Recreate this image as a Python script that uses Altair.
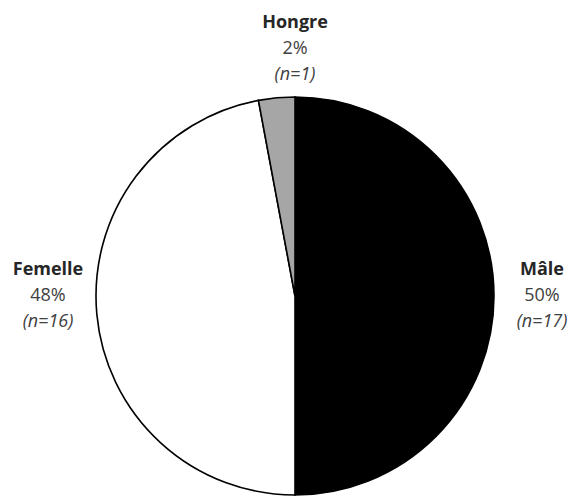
import math
import altair as alt
import pandas as pd

categories = ["Mâle", "Femelle", "Hongre"]
counts = [17, 16, 1]
percents = ["50%", "48%", "2%"]
n_labels = ["(n=17)", "(n=16)", "(n=1)"]
colours = ["#000000", "#ffffff", "#a6a6a6"]

CX, CY, R, LR = 287, 288, 199, 247
FONT = "Open Sans"

df = pd.DataFrame({
    "cat": categories,
    "n": counts,
    "pct": percents,
    "nlab": n_labels,
    "colour": colours,
    "order": list(range(len(categories))),
})
total = df["n"].sum()
ends = df["n"].cumsum() / total * 360
starts = ends - df["n"] / total * 360
mid = (starts + ends) / 2
snap = (mid / 90).round() * 90  # snap label to nearest cardinal direction
df["lx"] = [CX + LR * math.sin(math.radians(a)) for a in snap]
df["ly"] = [CY - LR * math.cos(math.radians(a)) for a in snap]

base = alt.Chart(df)

pie = base.mark_arc(stroke="#000000", strokeWidth=1.6, radius=R).encode(
    theta=alt.Theta("n:Q", stack=True),
    color=alt.Color("colour:N", scale=None),
    order=alt.Order("order:Q"),
    x=alt.value(CX),
    y=alt.value(CY),
)

pos = dict(x=alt.X("lx:Q", scale=None), y=alt.Y("ly:Q", scale=None))

name = base.mark_text(font=FONT, fontSize=18, fontWeight="bold", dy=-26,
                      color="#262626", baseline="middle").encode(text="cat:N", **pos)
pct = base.mark_text(font=FONT, fontSize=18, dy=0, color="#404040",
                     baseline="middle").encode(text="pct:N", **pos)
nn = base.mark_text(font=FONT, fontSize=18, fontStyle="italic", dy=26,
                    color="#404040", baseline="middle").encode(text="nlab:N", **pos)

chart = alt.layer(pie, name, pct, nn).properties(
    width=562, height=488, autosize="none", padding=0
).configure_view(stroke=None)

chart.save("out.html", embed_options={"renderer": "svg", "actions": False})
